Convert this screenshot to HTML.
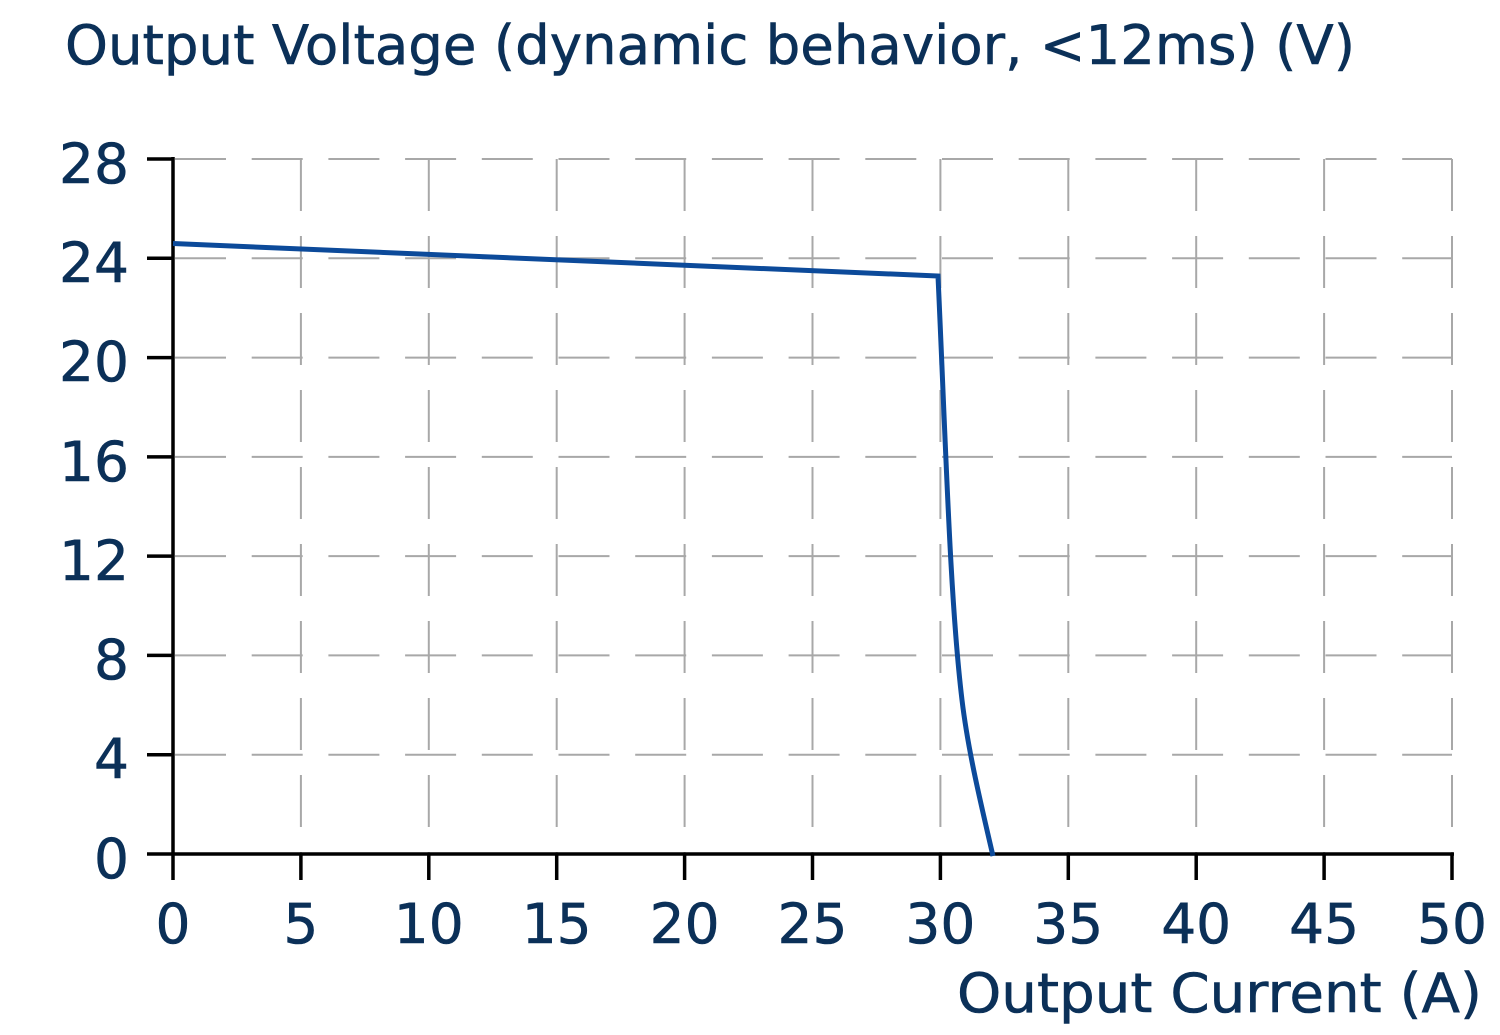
<!DOCTYPE html>
<html><head><meta charset="utf-8"><style>
html,body{margin:0;padding:0;background:#fff}
svg{display:block}
text{font-family:"DejaVu Sans","Liberation Sans",sans-serif;fill:#0b3058;stroke:#0b3058;stroke-width:0.6}
</style></head><body>
<svg width="1500" height="1035" viewBox="0 0 1500 1035" xmlns="http://www.w3.org/2000/svg">
<text x="65" y="64" font-size="54" textLength="1290" lengthAdjust="spacingAndGlyphs">Output Voltage (dynamic behavior, &lt;12ms) (V)</text>
<g stroke="#a8a8a8" stroke-width="2" fill="none">
<g stroke-dasharray="51 25.7">
<line x1="175" y1="159" x2="1452" y2="159"/>
<line x1="175" y1="258.3" x2="1452" y2="258.3"/>
<line x1="175" y1="357.6" x2="1452" y2="357.6"/>
<line x1="175" y1="456.9" x2="1452" y2="456.9"/>
<line x1="175" y1="556.1" x2="1452" y2="556.1"/>
<line x1="175" y1="655.4" x2="1452" y2="655.4"/>
<line x1="175" y1="754.7" x2="1452" y2="754.7"/>
</g>
<g stroke-dasharray="52 25">
<line x1="300.9" y1="159" x2="300.9" y2="854"/>
<line x1="428.8" y1="159" x2="428.8" y2="854"/>
<line x1="556.7" y1="159" x2="556.7" y2="854"/>
<line x1="684.6" y1="159" x2="684.6" y2="854"/>
<line x1="812.5" y1="159" x2="812.5" y2="854"/>
<line x1="940.4" y1="159" x2="940.4" y2="854"/>
<line x1="1068.3" y1="159" x2="1068.3" y2="854"/>
<line x1="1196.2" y1="159" x2="1196.2" y2="854"/>
<line x1="1324.1" y1="159" x2="1324.1" y2="854"/>
<line x1="1452" y1="159" x2="1452" y2="854"/>
</g>
</g>
<g stroke="#000" stroke-width="3.5" fill="none">
<line x1="173" y1="157" x2="173" y2="855"/>
<line x1="172" y1="854" x2="1454" y2="854"/>
<line x1="147" y1="159" x2="173" y2="159"/>
<line x1="147" y1="258.3" x2="173" y2="258.3"/>
<line x1="147" y1="357.6" x2="173" y2="357.6"/>
<line x1="147" y1="456.9" x2="173" y2="456.9"/>
<line x1="147" y1="556.1" x2="173" y2="556.1"/>
<line x1="147" y1="655.4" x2="173" y2="655.4"/>
<line x1="147" y1="754.7" x2="173" y2="754.7"/>
<line x1="147" y1="854" x2="173" y2="854"/>
<line x1="173" y1="854" x2="173" y2="880"/>
<line x1="300.9" y1="854" x2="300.9" y2="880"/>
<line x1="428.8" y1="854" x2="428.8" y2="880"/>
<line x1="556.7" y1="854" x2="556.7" y2="880"/>
<line x1="684.6" y1="854" x2="684.6" y2="880"/>
<line x1="812.5" y1="854" x2="812.5" y2="880"/>
<line x1="940.4" y1="854" x2="940.4" y2="880"/>
<line x1="1068.3" y1="854" x2="1068.3" y2="880"/>
<line x1="1196.2" y1="854" x2="1196.2" y2="880"/>
<line x1="1324.1" y1="854" x2="1324.1" y2="880"/>
<line x1="1452" y1="854" x2="1452" y2="880"/>
</g>
<path d="M173,243.5 L938,276 C946,450 950,600 962,700 C968,750 980,800 993,856" stroke="#0c4a9a" stroke-width="5" fill="none"/>
<g font-size="55" text-anchor="end">
<text x="129" y="183">28</text>
<text x="129" y="282">24</text>
<text x="129" y="381">20</text>
<text x="129" y="481">16</text>
<text x="129" y="580">12</text>
<text x="129" y="679">8</text>
<text x="129" y="778">4</text>
<text x="129" y="878">0</text>
</g>
<g font-size="55" text-anchor="middle">
<text x="173" y="943">0</text>
<text x="300.9" y="943">5</text>
<text x="428.8" y="943">10</text>
<text x="556.7" y="943">15</text>
<text x="684.6" y="943">20</text>
<text x="812.5" y="943">25</text>
<text x="940.4" y="943">30</text>
<text x="1068.3" y="943">35</text>
<text x="1196.2" y="943">40</text>
<text x="1324.1" y="943">45</text>
<text x="1452" y="943">50</text>
</g>
<text x="1482" y="1012" font-size="54" text-anchor="end" textLength="525" lengthAdjust="spacingAndGlyphs">Output Current (A)</text>
</svg>
</body></html>
